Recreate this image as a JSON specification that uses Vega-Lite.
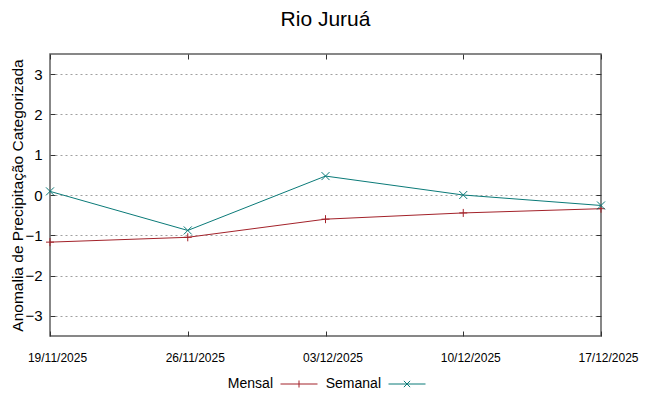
{
  "$schema": "https://vega.github.io/schema/vega-lite/v6.json",
  "width": 551,
  "height": 282,
  "autosize": {"type": "none"},
  "padding": {"left": 50, "top": 54, "right": 48, "bottom": 60},
  "background": "white",
  "title": {"text": "Rio Juruá", "font": "Liberation Sans", "fontSize": 21, "fontWeight": "normal", "color": "#000000", "anchor": "middle", "offset": 24},
  "config": {"view": {"stroke": "#606060", "strokeWidth": 1.5}, "font": "Liberation Sans"},
  "data": {"values": [
    {"date": "19/11/2025", "series": "Mensal", "value": -1.17},
    {"date": "26/11/2025", "series": "Mensal", "value": -1.05},
    {"date": "03/12/2025", "series": "Mensal", "value": -0.60},
    {"date": "10/12/2025", "series": "Mensal", "value": -0.445},
    {"date": "17/12/2025", "series": "Mensal", "value": -0.34},
    {"date": "19/11/2025", "series": "Semanal", "value": 0.09},
    {"date": "26/11/2025", "series": "Semanal", "value": -0.88},
    {"date": "03/12/2025", "series": "Semanal", "value": 0.47},
    {"date": "10/12/2025", "series": "Semanal", "value": 0.0},
    {"date": "17/12/2025", "series": "Semanal", "value": -0.26}
  ]},
  "resolve": {
    "axis": {"x": "independent", "y": "independent"},
    "scale": {"color": "independent", "shape": "independent"}
  },
  "layer": [
    {
      "mark": {"type": "line", "strokeWidth": 1},
      "encoding": {
        "x": {"field": "date", "type": "ordinal", "sort": null,
          "scale": {"type": "point", "padding": 0},
          "axis": {"orient": "bottom", "title": null, "labelAngle": 0, "labelOffset": 7, "labelFont": "Liberation Sans", "labelFontSize": 12, "labelColor": "#000000", "labelOverlap": false, "tickSize": -5, "tickColor": "#333333", "labelPadding": 21, "domain": false, "grid": false}},
        "y": {"field": "value", "type": "quantitative",
          "scale": {"domain": [-3.5, 3.5], "nice": false, "zero": false},
          "axis": {"orient": "left", "title": "Anomalia de Precipitação Categorizada", "titleFont": "Liberation Sans", "titleFontSize": 15.5, "titleFontWeight": "normal", "titleColor": "#000000", "titlePadding": -1, "values": [-3, -2, -1, 0, 1, 2, 3], "format": "d", "labelFont": "Liberation Sans", "labelFontSize": 15, "labelColor": "#000000", "labelPadding": 13, "tickSize": -5, "tickColor": "#333333", "domain": false, "grid": true, "gridColor": "#a0a0a0", "gridDash": [2, 3], "gridWidth": 1}},
        "color": {"field": "series", "type": "nominal", "scale": {"domain": ["Mensal", "Semanal"], "range": ["#a3222a", "#0a7a78"]}, "legend": null}
      }
    },
    {
      "mark": {"type": "point", "filled": false, "size": 64, "strokeWidth": 1, "opacity": 1},
      "encoding": {
        "x": {"field": "date", "type": "ordinal", "sort": null,
          "scale": {"type": "point", "padding": 0},
          "axis": {"orient": "top", "title": null, "labels": false, "tickSize": -5, "tickColor": "#333333", "domain": false, "grid": false}},
        "y": {"field": "value", "type": "quantitative",
          "scale": {"domain": [-3.5, 3.5], "nice": false, "zero": false},
          "axis": {"orient": "right", "title": null, "labels": false, "values": [-3, -2, -1, 0, 1, 2, 3], "tickSize": -5, "tickColor": "#333333", "domain": false, "grid": false}},
        "color": {"field": "series", "type": "nominal", "scale": {"domain": ["Mensal", "Semanal"], "range": ["#a3222a", "#0a7a78"]}, "legend": null},
        "shape": {"field": "series", "type": "nominal", "scale": {"domain": ["Mensal", "Semanal"], "range": ["M-1,0H1M0,-1V1", "M-1,-1L1,1M-1,1L1,-1"]}, "legend": null}
      }
    },
    {
      "transform": [{"filter": "false"}],
      "mark": {"type": "point", "filled": false, "strokeWidth": 1, "opacity": 1},
      "encoding": {
        "color": {"field": "series", "type": "nominal", "scale": {"domain": ["Mensal", "Semanal"], "range": ["#a3222a", "#0a7a78"]},
          "legend": {"orient": "none", "legendX": 230, "legendY": 311, "direction": "horizontal", "title": null, "labelAlign": "right", "labelOffset": -45, "symbolSize": 1369, "symbolStrokeWidth": 1, "labelFont": "Liberation Sans", "labelFontSize": 14, "labelColor": "#000000", "columnPadding": 5, "padding": 0, "symbolOpacity": 1}},
        "shape": {"field": "series", "type": "nominal", "scale": {"domain": ["Mensal", "Semanal"], "range": ["M-1,0H1M0,-0.19V0.19", "M-1,0H1M-0.17,-0.17L0.17,0.17M-0.17,0.17L0.17,-0.17"]},
          "legend": {"orient": "none", "legendX": 230, "legendY": 311, "direction": "horizontal", "title": null, "labelAlign": "right", "labelOffset": -45, "symbolSize": 1369, "symbolStrokeWidth": 1, "labelFont": "Liberation Sans", "labelFontSize": 14, "labelColor": "#000000", "columnPadding": 5, "padding": 0, "symbolOpacity": 1}}
      }
    }
  ]
}
